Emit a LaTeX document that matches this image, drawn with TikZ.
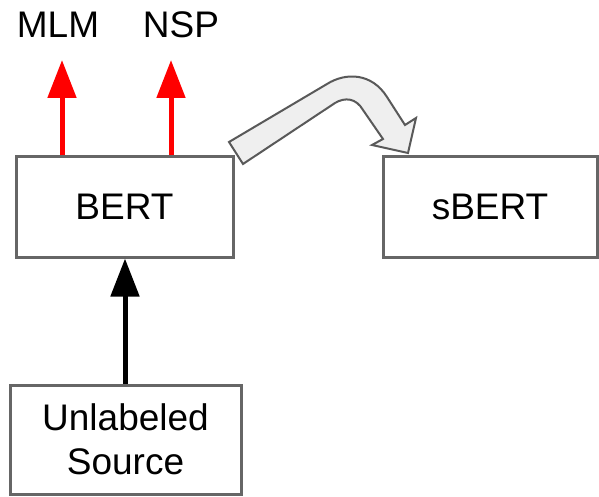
\documentclass[tikz,border=0pt]{standalone}
\usepackage{fontspec}
\setmainfont{Liberation Sans}
\usetikzlibrary{arrows.meta}
\begin{document}
\begin{tikzpicture}[x=1pt,y=-1pt,
  box/.style={draw=boxgray,line width=3pt,fill=white,inner sep=0pt,align=center,font=\fontsize{37}{44}\selectfont},
  lbl/.style={inner sep=0pt,font=\fontsize{37}{44}\selectfont},
  redarrow/.style={draw=red,line width=5pt,-{Triangle[length=38pt,width=28pt]}},
  blackarrow/.style={draw=black,line width=5pt,-{Triangle[length=38pt,width=28pt]}},
  blockarrow/.style={draw=arrowgray,line width=2pt,fill=arrowfill,line join=miter}]
\definecolor{boxgray}{HTML}{666666}
\definecolor{arrowgray}{HTML}{595959}
\definecolor{arrowfill}{HTML}{EFEFEF}
\useasboundingbox (0,0) rectangle (599,497);

% boxes
\node[box,minimum width=217pt,minimum height=100pt] (bert) at (124.5,207) {BERT};
\node[box,minimum width=214pt,minimum height=100pt] (sbert) at (490,207) {sBERT};
\node[box,minimum width=231pt,minimum height=109pt] (src) at (125.5,439.5) {Unlabeled\\Source};

% task labels
\node[lbl] (mlm) at (58,25) {MLM};
\node[lbl] (nsp) at (181,25) {NSP};
\coordinate (mlmtip) at (62,60);
\coordinate (nsptip) at (171,60);

% pre-training objectives
\draw[redarrow] (bert.north -| mlmtip) -- (mlmtip);
\draw[redarrow] (bert.north -| nsptip) -- (nsptip);

% input data
\draw[blackarrow] (src.north -| 125,0) -- (bert.south -| 125,0);

% transfer from BERT to sBERT
\path[blockarrow] (229,142) -- (327,84)
  .. controls (346,72) and (372,73) .. (387,97)
  -- (405,125) -- (416,118) -- (408,153) -- (372,145) -- (383,139)
  -- (363,110) .. controls (356,98) and (345,97) .. (335,103)
  -- (243,164) -- cycle;
\end{tikzpicture}
\end{document}
